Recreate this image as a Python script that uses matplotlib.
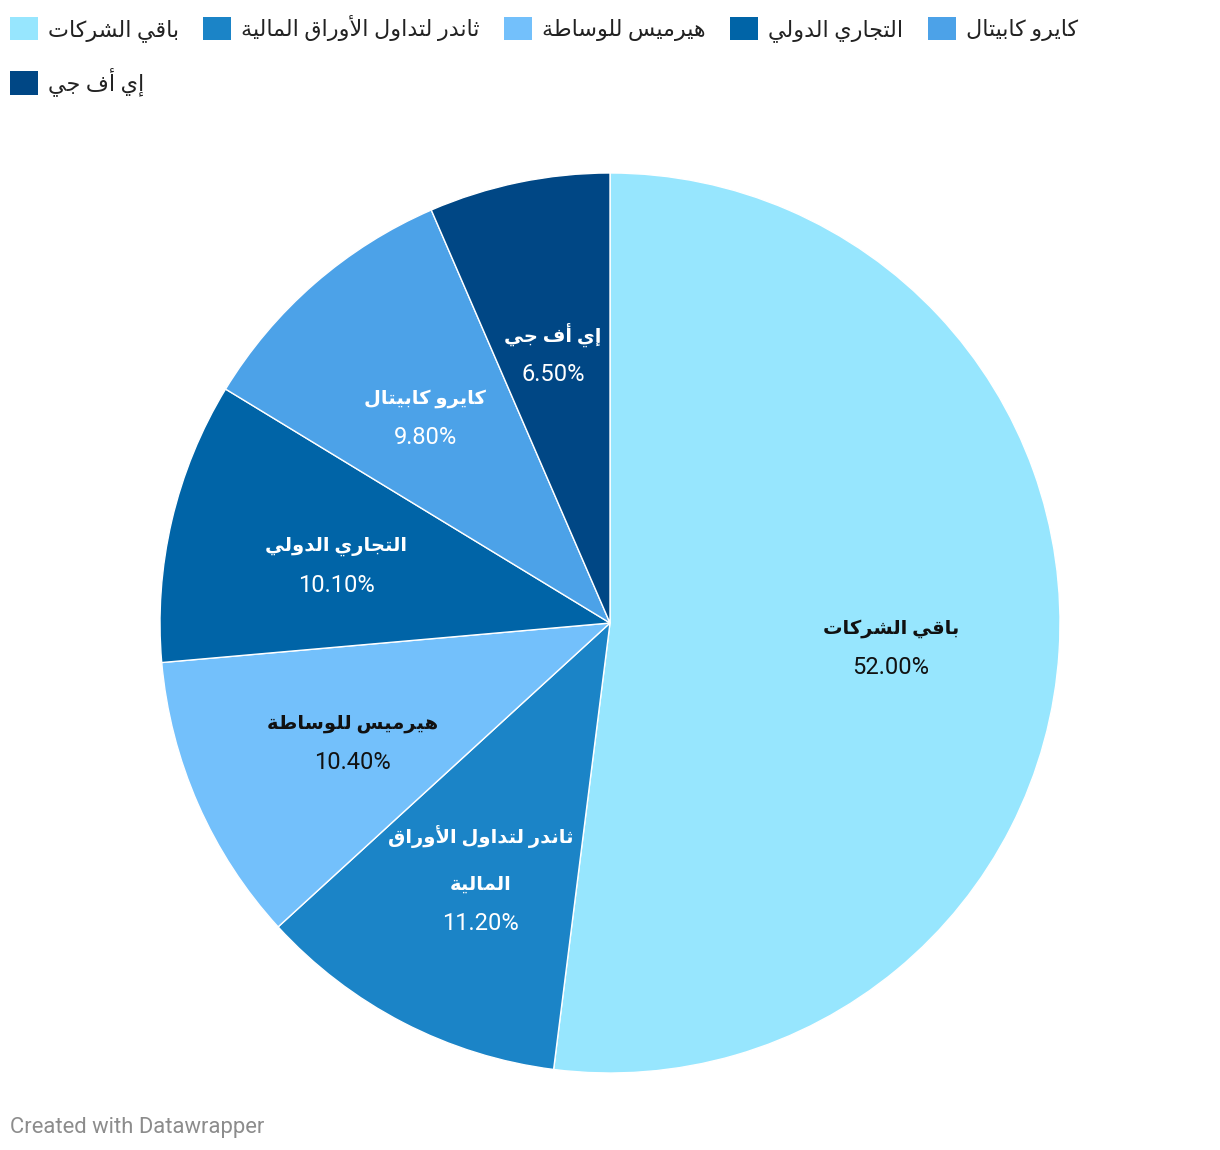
import numpy as np
import matplotlib
matplotlib.use('Agg')
import matplotlib.pyplot as plt
from matplotlib.patches import Patch

# بيانات الرسم
names = ['باقي الشركات', 'ثاندر لتداول الأوراق المالية', 'هيرميس للوساطة',
         'التجاري الدولي', 'كايرو كابيتال', 'إي أف جي']
# الاسم مقسم على أسطر كما يظهر داخل الشريحة
label_lines = [['باقي الشركات'], ['ثاندر لتداول الأوراق', 'المالية'], ['هيرميس للوساطة'],
               ['التجاري الدولي'], ['كايرو كابيتال'], ['إي أف جي']]
shares = [52.0, 11.2, 10.4, 10.1, 9.8, 6.5]
colors = ['#97e6fe', '#1b84c7', '#73c0fb', '#0064a7', '#4ca2e8', '#004785']
text_colors = ['#111111', 'white', '#111111', 'white', 'white', 'white']

# تشكيل الحروف العربية يدويا (matplotlib لا يقوم بالتشكيل ولا بالاتجاه من اليمين لليسار)
FORMS = {
    'ا': ('\uFE8D', '\uFE8E', None, None),
    'أ': ('\uFE83', '\uFE84', None, None),
    'إ': ('\uFE87', '\uFE88', None, None),
    'ب': ('\uFE8F', '\uFE90', '\uFE91', '\uFE92'),
    'ة': ('\uFE93', '\uFE94', None, None),
    'ت': ('\uFE95', '\uFE96', '\uFE97', '\uFE98'),
    'ث': ('\uFE99', '\uFE9A', '\uFE9B', '\uFE9C'),
    'ج': ('\uFE9D', '\uFE9E', '\uFE9F', '\uFEA0'),
    'د': ('\uFEA9', '\uFEAA', None, None),
    'ر': ('\uFEAD', '\uFEAE', None, None),
    'س': ('\uFEB1', '\uFEB2', '\uFEB3', '\uFEB4'),
    'ش': ('\uFEB5', '\uFEB6', '\uFEB7', '\uFEB8'),
    'ط': ('\uFEC1', '\uFEC2', '\uFEC3', '\uFEC4'),
    'ف': ('\uFED1', '\uFED2', '\uFED3', '\uFED4'),
    'ق': ('\uFED5', '\uFED6', '\uFED7', '\uFED8'),
    'ك': ('\uFED9', '\uFEDA', '\uFEDB', '\uFEDC'),
    'ل': ('\uFEDD', '\uFEDE', '\uFEDF', '\uFEE0'),
    'م': ('\uFEE1', '\uFEE2', '\uFEE3', '\uFEE4'),
    'ن': ('\uFEE5', '\uFEE6', '\uFEE7', '\uFEE8'),
    'ه': ('\uFEE9', '\uFEEA', '\uFEEB', '\uFEEC'),
    'و': ('\uFEED', '\uFEEE', None, None),
    'ي': ('\uFEF1', '\uFEF2', '\uFEF3', '\uFEF4'),
}
LAM_ALEF = {'ا': ('\uFEFB', '\uFEFC'), 'أ': ('\uFEF7', '\uFEF8'), 'إ': ('\uFEF9', '\uFEFA')}


def ar(text):
    units = []
    i = 0
    while i < len(text):
        c = text[i]
        if c == 'ل' and i + 1 < len(text) and text[i + 1] in LAM_ALEF:
            iso, fin = LAM_ALEF[text[i + 1]]
            units.append((c, (iso, fin, None, None)))
            i += 2
        else:
            units.append((c, FORMS.get(c)))
            i += 1
    out = []
    for k, (c, f) in enumerate(units):
        if f is None:
            out.append(c)
            continue
        prev = units[k - 1][1] if k > 0 else None
        nxt = units[k + 1][1] if k + 1 < len(units) else None
        jp = prev is not None and prev[2] is not None
        jn = f[2] is not None and nxt is not None
        if jp and jn:
            g = f[3]
        elif jp:
            g = f[1]
        elif jn:
            g = f[2]
        else:
            g = f[0]
        out.append(g)
    return ''.join(reversed(out))


FAM = ['Roboto', 'DejaVu Sans']
plt.rcParams['font.family'] = FAM

fig = plt.figure(figsize=(12.2, 11.5), dpi=100)
ax = fig.add_axes([160 / 1220, 77 / 1150, 900 / 1220, 900 / 1150])

wedges, _ = ax.pie(shares, colors=colors, startangle=90, counterclock=False,
                   radius=1, wedgeprops=dict(edgecolor='white', linewidth=1))
ax.set_xlim(-1, 1)
ax.set_ylim(-1, 1)
ax.set_aspect('equal')
ax.axis('off')

# التسميات داخل الشرائح
px = 72 / 100
for w, lines, val, tc in zip(wedges, label_lines, shares, text_colors):
    mid = np.deg2rad((w.theta1 + w.theta2) / 2)
    r = 0.625
    p = (r * np.cos(mid), r * np.sin(mid))
    n = len(lines)
    last = 12.5 - (n - 1) * 24
    for j, line in enumerate(lines):
        off = last + (n - 1 - j) * 48
        ax.annotate(ar(line), p, xytext=(0, off * px), textcoords='offset points',
                    ha='center', va='center', fontsize=14, fontweight='bold',
                    color=tc, family=FAM)
    ax.annotate(f'{val:.2f}%', p, xytext=(0, (last - 39) * px), textcoords='offset points',
                ha='center', va='center', fontsize=17, color=tc, family=FAM)

# وسيلة الإيضاح: الترتيب معدل ليملأ الصف الأول ثم الثاني
order = [0, 5, 1, 2, 3, 4]
handles = [Patch(facecolor=colors[i], edgecolor='none') for i in order]
labels = [ar(names[i]) for i in order]
fig.legend(handles, labels, loc='upper left', bbox_to_anchor=(10 / 1220, 1 - 15 / 1150),
           ncol=5, frameon=False, fontsize=16, handlelength=1.26, handleheight=1.26,
           handletextpad=0.45, columnspacing=1.1, labelspacing=1.15, borderpad=0,
           borderaxespad=0, labelcolor='#222222')

fig.text(10 / 1220, 1 - 1127 / 1150, 'Created with Datawrapper', ha='left', va='center',
         fontsize=15.8, color='#8c8c8c', family=FAM)

fig.savefig('out.png', dpi=100, facecolor='white')
